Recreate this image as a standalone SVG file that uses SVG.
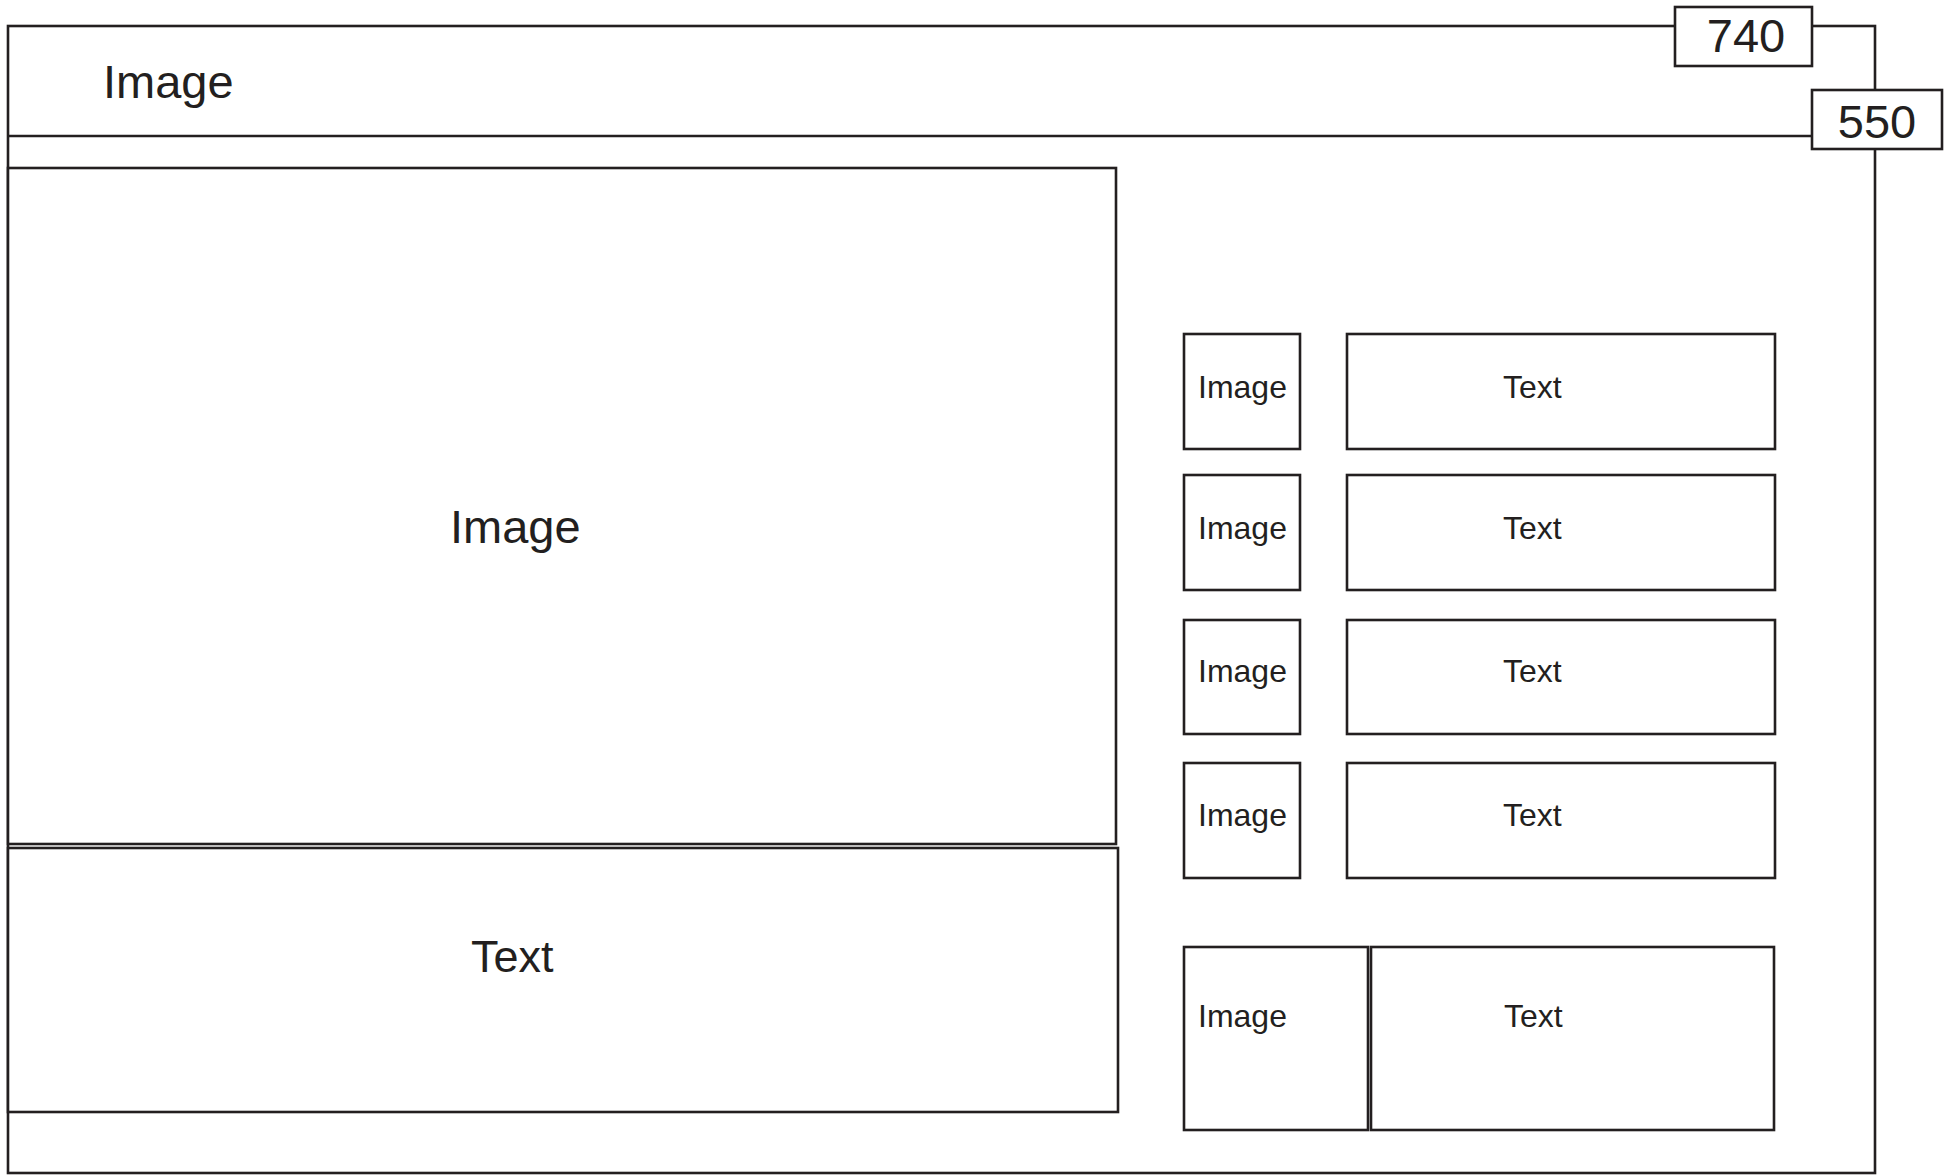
<svg xmlns="http://www.w3.org/2000/svg" width="1944" height="1175" viewBox="0 0 1944 1175">
<style>
.b{fill:#fff;stroke:#231f20;stroke-width:2.6}
.n{fill:none;stroke:#231f20;stroke-width:2.6}
text{font-family:"Liberation Sans",Arial,sans-serif;fill:#231f20}
.L{font-size:47px}
.S{font-size:32px}
</style>
<rect width="1944" height="1175" fill="#fff"/>
<g id="frame">
<rect class="n" x="8" y="26" width="1867" height="1147"/>
<line class="n" x1="8" y1="136" x2="1812" y2="136"/>
<text class="L" x="103" y="98">Image</text>
</g>
<g id="dim740">
<rect class="b" x="1675" y="7" width="137" height="59"/>
<text class="L" x="1746" y="52" text-anchor="middle">740</text>
</g>
<g id="dim550">
<rect class="b" x="1812" y="90" width="130" height="59"/>
<text class="L" x="1877" y="138" text-anchor="middle">550</text>
</g>
<g id="mainImage">
<rect class="b" x="8" y="168" width="1108" height="676"/>
<text class="L" x="450" y="543">Image</text>
</g>
<g id="mainText">
<rect class="b" x="8" y="848" width="1110" height="264"/>
<text class="L" x="471" y="972" style="font-size:45px">Text</text>
</g>
<g id="row1">
<rect class="b" x="1184" y="334" width="116" height="115"/>
<text class="S" x="1198" y="398">Image</text>
<rect class="b" x="1347" y="334" width="428" height="115"/>
<text class="S" x="1503" y="398">Text</text>
</g>
<g id="row2">
<rect class="b" x="1184" y="475" width="116" height="115"/>
<text class="S" x="1198" y="539">Image</text>
<rect class="b" x="1347" y="475" width="428" height="115"/>
<text class="S" x="1503" y="539">Text</text>
</g>
<g id="row3">
<rect class="b" x="1184" y="620" width="116" height="114"/>
<text class="S" x="1198" y="682">Image</text>
<rect class="b" x="1347" y="620" width="428" height="114"/>
<text class="S" x="1503" y="682">Text</text>
</g>
<g id="row4">
<rect class="b" x="1184" y="763" width="116" height="115"/>
<text class="S" x="1198" y="826">Image</text>
<rect class="b" x="1347" y="763" width="428" height="115"/>
<text class="S" x="1503" y="826">Text</text>
</g>
<g id="row5">
<rect class="b" x="1184" y="947" width="184" height="183"/>
<text class="S" x="1198" y="1027">Image</text>
<rect class="b" x="1371" y="947" width="403" height="183"/>
<text class="S" x="1504" y="1027">Text</text>
</g>
<g id="connectors"></g>
</svg>
